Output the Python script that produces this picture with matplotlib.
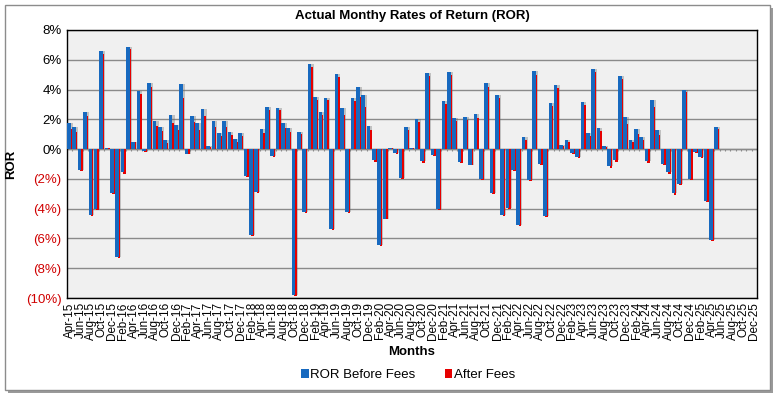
import numpy as np
import pandas as pd
import matplotlib
matplotlib.use('Agg')
import matplotlib.pyplot as plt
from matplotlib.patches import Rectangle, Patch

plt.rcParams['font.family'] = ['Liberation Sans', 'DejaVu Sans']

# month categories Apr-15 .. Dec-25
months = pd.date_range('2015-04-01', periods=129, freq='MS').strftime('%b-%y').tolist()

# monthly returns in %, before fees (Apr-15 .. May-25)
ror_before = [1.78, 1.50, -1.38, 2.50, -4.45, -4.05, 6.58, 0.10, -2.93, -7.22,
              -1.56, 6.89, 0.50, 3.87, -0.15, 4.44, 1.90, 1.50, 0.58, 2.29,
              1.62, 4.36, -0.30, 2.22, 1.73, 2.69, 0.18, 1.91, 1.07, 1.91,
              1.18, 0.67, 1.11, -1.82, -5.78, -2.89, 1.33, 2.84, -0.44, 2.78,
              1.73, 1.40, -9.82, 1.18, -4.22, 5.73, 3.51, 2.51, 3.44, -5.38,
              5.07, 2.73, -4.22, 3.40, 4.18, 3.62, 1.56, -0.76, -6.44, -4.67,
              0.10, -0.27, -1.93, 1.47, 0.10, 2.00, -0.82, 5.11, -0.38, -4.04,
              3.22, 5.18, 2.11, -0.89, 2.18, -1.04, 2.36, -2.04, 4.44, -2.93,
              3.62, -4.44, -3.95, -1.38, -5.11, 0.80, -2.09, 5.24, -0.98, -4.49,
              3.11, 4.29, 0.29, 0.58, -0.27, -0.53, 3.18, 1.07, 5.36, 1.44,
              0.18, -1.16, -0.76, 4.89, 2.18, 0.58, 1.38, 0.84, -0.82, 3.29,
              1.29, -0.98, -1.56, -2.98, -2.33, 3.96, -2.00, -0.18, -0.53, -3.49,
              -6.09, 1.47]

# monthly returns in %, after fees
ror_after = [1.35, 1.15, -1.45, 2.20, -4.50, -4.10, 6.40, 0.05, -3.00, -7.30,
             -1.65, 6.75, 0.45, 3.70, -0.20, 4.20, 1.55, 1.20, 0.40, 1.75,
             1.30, 3.40, -0.35, 1.85, 1.30, 2.20, 0.12, 1.50, 0.85, 1.50,
             0.95, 0.50, 0.90, -1.90, -5.85, -2.95, 1.10, 2.60, -0.50, 2.60,
             1.45, 1.15, -9.85, 1.00, -4.30, 5.50, 3.30, 2.30, 3.30, -5.45,
             4.85, 2.30, -4.30, 3.20, 3.50, 2.84, 1.30, -0.85, -6.50, -4.70,
             0.05, -0.32, -2.00, 1.25, 0.05, 1.80, -0.90, 4.90, -0.45, -4.10,
             3.00, 4.96, 1.90, -0.95, 1.96, -1.10, 2.07, -2.10, 4.20, -3.00,
             3.40, -4.50, -4.00, -1.45, -5.15, 0.60, -2.15, 5.00, -1.05, -4.55,
             2.90, 4.10, 0.22, 0.45, -0.32, -0.60, 2.95, 0.90, 5.20, 1.20,
             0.12, -1.25, -0.85, 4.70, 1.69, 0.45, 1.00, 0.62, -0.90, 2.80,
             0.96, -1.05, -1.65, -3.05, -2.40, 3.84, -2.05, -0.25, -0.60, -3.55,
             -6.15, 1.33]

yticks = [8, 6, 4, 2, 0, -2, -4, -6, -8, -10]

blue = '#1769bf'
red = '#e60000'

fig = plt.figure(figsize=(7.8, 3.96), dpi=100)

# outer frame with shadow
fig.patches.append(Rectangle((8 / 780, 3 / 396), 765 / 780, 385 / 396, transform=fig.transFigure,
                             facecolor='#9a9a9a', edgecolor='none', zorder=-3))
fig.patches.append(Rectangle((5 / 780, 6 / 396), 765 / 780, 385 / 396, transform=fig.transFigure,
                             facecolor='white', edgecolor='#8c8c8c', linewidth=1, zorder=-2))

ax = fig.add_axes([67 / 780, 1 - 298 / 396, 690 / 780, 268 / 396])
ax.set_facecolor('#f0f0f0')

n = len(ror_before)
x = np.arange(n)
b = np.array(ror_before)
a = np.array(ror_after)

# bar shadows, after fees, before fees
ax.bar(x + 0.34, b, width=0.55, color='#6a6a6a', alpha=0.35, zorder=2, linewidth=0)
ax.bar(x + 0.2, a, width=0.5, color=red, zorder=3, linewidth=0)
ax.bar(x - 0.14, b, width=0.68, color=blue, zorder=4, linewidth=0)

ax.set_xlim(-0.5, len(months) - 0.5)
ax.set_ylim(-10, 8)
ax.set_yticks(yticks)
ax.set_yticklabels([f'{v}%' if v >= 0 else f'({-v}%)' for v in yticks], fontsize=9.5)
for lab, v in zip(ax.get_yticklabels(), yticks):
    if v < 0:
        lab.set_color('#d00000')
ax.yaxis.grid(True, color='#8a8a8a', linewidth=1)
ax.set_axisbelow(True)
ax.tick_params(axis='y', length=0, pad=4)

# zero axis with category ticks
ax.axhline(0, color='#8a8a8a', linewidth=1, zorder=1)
ax.vlines(np.arange(len(months)) + 0.5, -0.15, 0, color='#8a8a8a', linewidth=0.8, zorder=1)

ax.set_xticks(np.arange(0, len(months), 2))
ax.set_xticklabels(months[::2], rotation=90, fontsize=8.5)
ax.tick_params(axis='x', length=0, pad=3)

for s in ax.spines.values():
    s.set_color('black')
    s.set_linewidth(1)

ax.set_title('Actual Monthy Rates of Return (ROR)', fontsize=9.5, fontweight='bold', pad=8)
ax.set_ylabel('ROR', fontsize=9.5, fontweight='bold', labelpad=6)
ax.set_xlabel('Months', fontsize=9.5, fontweight='bold', labelpad=4)

handles = [Patch(facecolor=blue, label='ROR Before Fees'), Patch(facecolor=red, label='After Fees')]
fig.legend(handles=handles, loc='center', bbox_to_anchor=(408 / 780, 1 - 375 / 396), ncol=2,
           frameon=False, fontsize=9.5, handlelength=0.6, handleheight=0.6, handletextpad=0.1,
           columnspacing=2.2)

fig.savefig('out.png', dpi=100)
